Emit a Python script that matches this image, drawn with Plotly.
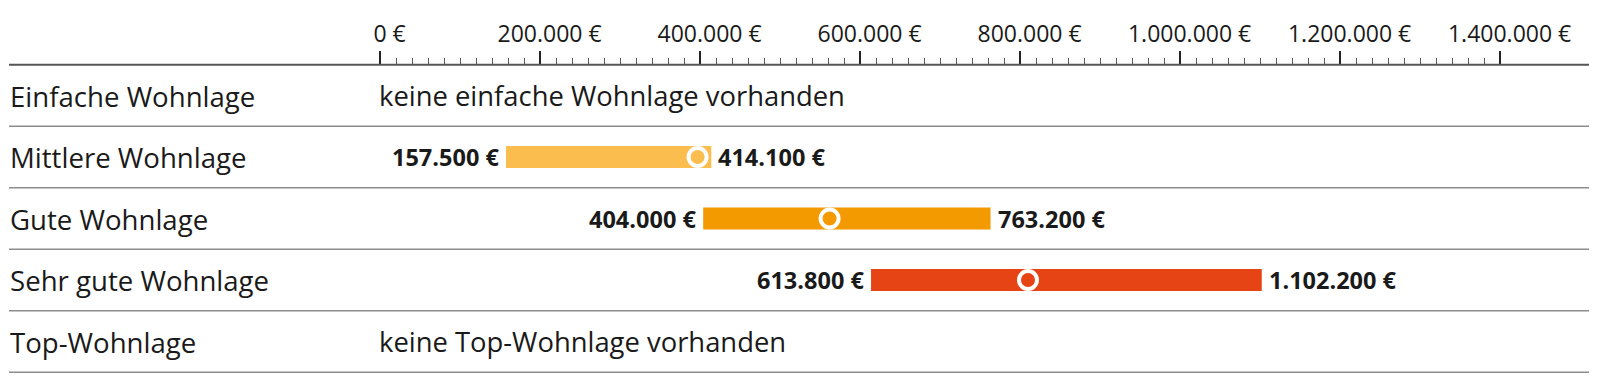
import plotly.graph_objects as go

# ---- data ----
categories = ["Einfache Wohnlage", "Mittlere Wohnlage", "Gute Wohnlage",
              "Sehr gute Wohnlage", "Top-Wohnlage"]
low_values = [None, 157500, 404000, 613800, None]
high_values = [None, 414100, 763200, 1102200, None]
mid_values = [None, 397000, 562000, 810000, None]
missing_texts = ["keine einfache Wohnlage vorhanden", None, None, None,
                 "keine Top-Wohnlage vorhanden"]
bar_colors = [None, "#FBBE4E", "#F29A00", "#E64415", None]
tick_values = [0, 200000, 400000, 600000, 800000, 1000000, 1200000, 1400000]
minor_tick_values = [v for v in range(0, 1400001, 20000) if v % 200000 != 0]

# page body has an 8px default margin -> shrink figure and shift geometry
OFF = 8
W, H = 1600 - OFF, 378 - OFF
FONT = "Open Sans"
TXT = "#1a1a1a"

# pixel geometry (window pixels) -> axis ranges (figure pixels)
x0_px = 380.0 - OFF
px_per_eur = 0.8 / 1000
x_range = [-x0_px / px_per_eur, (W - x0_px) / px_per_eur]
row0_px, row_px = 95.5 - OFF, 61.5
y_range = [(H - row0_px) / row_px, -row0_px / row_px]


def fmt(v):
    return f"{v:,.0f}".replace(",", ".") + " €"


def tick_label(v):
    # number centred on the tick: invisible "€ " pad balances the visible " €"
    return '<span style="color:white">€&nbsp;</span>' + fmt(v)


fig = go.Figure()

for i, cat in enumerate(categories):
    lo, hi = low_values[i], high_values[i]
    if lo is None:
        continue
    fig.add_trace(go.Bar(
        y=[i], x=[hi - lo], base=[lo], orientation="h",
        marker=dict(color=bar_colors[i], line=dict(width=0)),
        width=22 / row_px, showlegend=False, hoverinfo="skip",
        xaxis="x", yaxis="y"))
    fig.add_trace(go.Scatter(
        x=[mid_values[i]], y=[i], mode="markers",
        marker=dict(size=18, color=bar_colors[i],
                    line=dict(color="white", width=4)),
        showlegend=False, hoverinfo="skip", xaxis="x", yaxis="y"))

annotations = []
for i, cat in enumerate(categories):
    annotations.append(dict(
        x=(8 - OFF) / W, xref="paper", y=i, yref="y", text=cat,
        showarrow=False, xanchor="left", yanchor="middle",
        font=dict(family=FONT, size=27.6, color=TXT)))
    if missing_texts[i]:
        annotations.append(dict(
            x=0, xref="x", y=i, yref="y", text=missing_texts[i],
            showarrow=False, xanchor="left", yanchor="middle", xshift=-3,
            font=dict(family=FONT, size=27.4, color=TXT)))
    if low_values[i] is not None:
        annotations.append(dict(
            x=low_values[i], xref="x", y=i, yref="y",
            text="<b>" + fmt(low_values[i]) + "</b>", showarrow=False,
            xanchor="right", yanchor="middle", xshift=-5,
            font=dict(family=FONT, size=23.5, color=TXT)))
        annotations.append(dict(
            x=high_values[i], xref="x", y=i, yref="y",
            text="<b>" + fmt(high_values[i]) + "</b>", showarrow=False,
            xanchor="left", yanchor="middle", xshift=5,
            font=dict(family=FONT, size=23.5, color=TXT)))

shapes = []
for k in range(len(categories) + 1):
    shapes.append(dict(
        type="line", xref="paper", yref="y", x0=(9 - OFF) / W,
        x1=(1589 - OFF) / W, y0=k - 0.5, y1=k - 0.5,
        line=dict(color="#555555" if k == 0 else "#8c8c8c",
                  width=2 if k == 0 else 1.6)))

axis_pos = 1 - (row0_px - 0.5 * row_px) / H

fig.update_layout(
    width=W, height=H, margin=dict(l=0, r=0, t=0, b=0),
    paper_bgcolor="white", plot_bgcolor="white",
    separators=",.", barmode="overlay",
    xaxis=dict(range=x_range, visible=False, fixedrange=True),
    xaxis2=dict(range=x_range, overlaying="x", side="top", anchor="free",
                position=axis_pos, showgrid=False, zeroline=False,
                showline=False, tickmode="array", tickvals=tick_values,
                ticktext=[tick_label(v) for v in tick_values],
                ticks="outside", ticklen=14, tickwidth=2,
                tickcolor="#222222", ticklabelstandoff=0,
                tickfont=dict(family=FONT, size=23, color=TXT),
                minor=dict(tickmode="array", tickvals=minor_tick_values,
                           ticks="outside", ticklen=7, tickwidth=1,
                           tickcolor="#555555", showgrid=False)),
    yaxis=dict(range=y_range, visible=False, fixedrange=True, domain=[0, 1]),
    annotations=annotations, shapes=shapes,
)
# invisible trace to show the top axis
fig.add_trace(go.Scatter(x=[0], y=[0], xaxis="x2", yaxis="y", mode="markers",
                         marker=dict(opacity=0), showlegend=False,
                         hoverinfo="skip"))

fig.write_html("out.html")
